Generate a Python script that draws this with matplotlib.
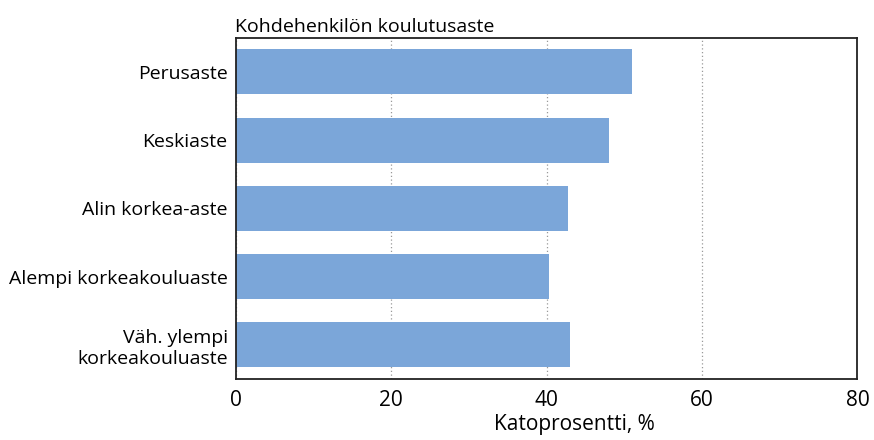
import matplotlib
matplotlib.use("Agg")
import matplotlib.pyplot as plt

categories = ["Perusaste", "Keskiaste", "Alin korkea-aste",
              "Alempi korkeakouluaste", "Väh. ylempi\nkorkeakouluaste"]
values = [51.0, 48.0, 42.8, 40.3, 43.0]
xticks = [0, 20, 40, 60, 80]

plt.rcParams["font.family"] = ["Open Sans", "DejaVu Sans"]

fig = plt.figure(figsize=(8.74, 4.40), dpi=100)
ax = fig.add_axes([0.270, 0.139, 0.711, 0.775])

pos = list(range(len(categories)))
ax.barh(pos, values, height=0.66, color="#7BA6D9", zorder=2)
ax.set_ylim(len(categories) - 0.5, -0.5)
ax.set_yticks(pos)
ax.set_yticklabels(categories, fontsize=14, linespacing=1.2)
ax.set_xlim(0, 80)
ax.set_xticks(xticks)
ax.set_xticklabels([str(t) for t in xticks], fontsize=15)
ax.tick_params(length=0, pad=6)
ax.tick_params(axis="x", pad=8)

ax.grid(axis="x", linestyle=(0, (1, 2)), color="#999999", linewidth=0.9, zorder=1)
for s in ax.spines.values():
    s.set_color("#222222")
    s.set_linewidth(1.3)

ax.set_title("Kohdehenkilön koulutusaste", loc="left", fontsize=14, pad=4, x=-0.002)
ax.set_xlabel("Katoprosentti, %", fontsize=15, labelpad=2, x=0.545)

fig.savefig("out.png", dpi=100)
